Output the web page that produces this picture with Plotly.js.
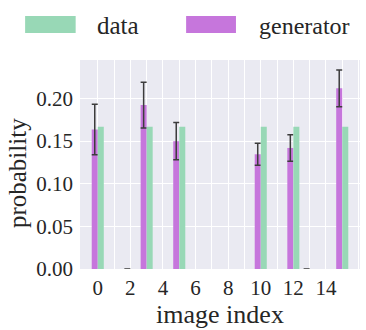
<!DOCTYPE html>
<html>
<head>
<meta charset="utf-8">
<script src="https://cdn.plot.ly/plotly-3.0.1.min.js"></script>
<style>
  html, body { margin: 0; padding: 0; background: #ffffff; }
  #chart { width: 366px; height: 330px; }
</style>
</head>
<body>
<div id="chart"></div>
<script>
// image index -> probability
const genIndex = [0, 2, 3, 5, 10, 12, 13, 15];
const genProb = [0.1635, 0, 0.1922, 0.1498, 0.1345, 0.1419, 0, 0.2118];
const genErr = [0.0295, 0, 0.0268, 0.0218, 0.013, 0.0155, 0, 0.0216];

const dataIndex = [0, 3, 5, 10, 12, 15];
const dataProb = [0.1667, 0.1667, 0.1667, 0.1667, 0.1667, 0.1667];

const tickVals = [0, 1, 2, 3, 4, 5, 6, 7, 8, 9, 10, 11, 12, 13, 14, 15, 16];
const tickText = ["0", "", "2", "", "4", "", "6", "", "8", "", "10", "", "12", "", "14", "", ""];

const FONT = "Liberation Serif";
const GREEN = "#98d8b6";
const PURPLE = "#c676dc";

function renderChart() {
  const root = document.getElementById("chart");

  Plotly.newPlot(
    root,
    [
      {
        x: genIndex,
        y: genProb,
        type: "bar",
        name: "generator",
        marker: { color: PURPLE, line: { width: 0 } },
        error_y: {
          type: "data",
          array: genErr,
          visible: true,
          color: "#3c3c3c",
          thickness: 1.5,
          width: 3,
        },
      },
      {
        x: dataIndex,
        y: dataProb,
        type: "bar",
        name: "data",
        marker: { color: GREEN, line: { width: 0 } },
      },
    ],
    {
      width: 366,
      height: 330,
      margin: { t: 60, l: 80, r: 6, b: 61 },
      paper_bgcolor: "#ffffff",
      plot_bgcolor: "#eaeaf2",
      font: { family: FONT, color: "#262626", size: 21 },
      showlegend: false,
      barmode: "group",
      bargap: 0.26,
      bargroupgap: 0,

      xaxis: {
        range: [-1.09, 16.09],
        tickmode: "array",
        tickvals: tickVals,
        ticktext: tickText,
        showgrid: true,
        gridcolor: "#ffffff",
        gridwidth: 1,
        zeroline: false,
        ticks: "",
        ticklabelstandoff: 4,
        tickfont: { family: FONT, size: 21 },
        title: { text: "image index", font: { family: FONT, size: 26 }, standoff: 2 },
      },

      yaxis: {
        range: [0, 0.245],
        tickvals: [0, 0.05, 0.1, 0.15, 0.2],
        tickformat: ".2f",
        showgrid: true,
        gridcolor: "#ffffff",
        gridwidth: 1,
        zeroline: false,
        ticks: "",
        ticklabelstandoff: 6,
        tickfont: { family: FONT, size: 21 },
      },

      // matplotlib-style legend patches above the axes
      shapes: [
        { type: "rect", xref: "paper", yref: "paper", x0: -0.196, x1: -0.0155, y0: 1.129, y1: 1.2105, fillcolor: GREEN, line: { width: 0 } },
        { type: "rect", xref: "paper", yref: "paper", x0: 0.379, x1: 0.557, y0: 1.129, y1: 1.2105, fillcolor: PURPLE, line: { width: 0 } },
      ],
      annotations: [
        { text: "data", xref: "paper", yref: "paper", x: 0.052, y: 1.165, xanchor: "left", yanchor: "middle", showarrow: false, font: { family: FONT, size: 25 } },
        { text: "generator", xref: "paper", yref: "paper", x: 0.632, y: 1.165, xanchor: "left", yanchor: "middle", showarrow: false, font: { family: FONT, size: 24 } },
        // y axis title, placed like matplotlib's
        { text: "probability", xref: "paper", yref: "paper", x: -0.225, y: 0.459, xanchor: "center", yanchor: "middle", textangle: -90, showarrow: false, font: { family: FONT, size: 25 } },
      ],
    },
    {
      displayModeBar: false,
      staticPlot: true,
    }
  );
}

renderChart();
</script>
</body>
</html>
